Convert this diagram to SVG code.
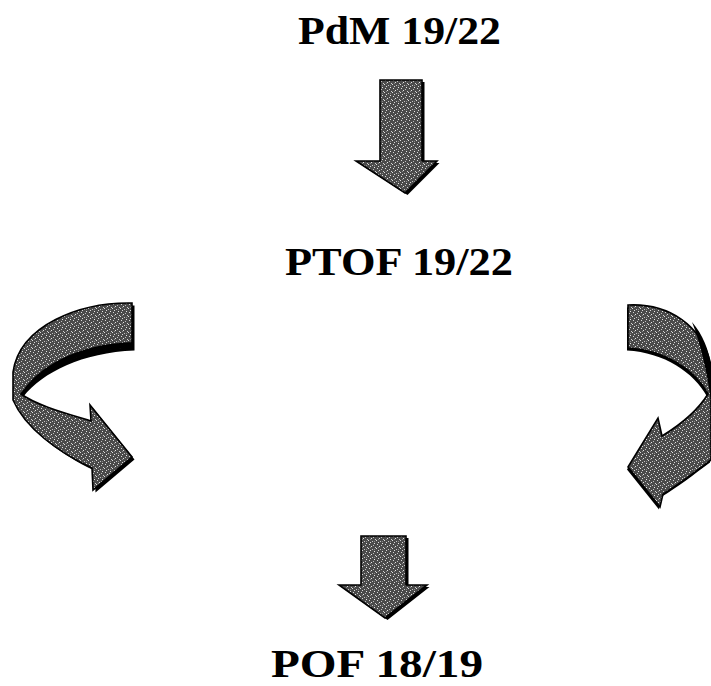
<svg xmlns="http://www.w3.org/2000/svg" width="711" height="686" viewBox="0 0 711 686">
  <style>
    .label { font-family: "Liberation Serif", "Times New Roman", serif; font-weight: bold; font-size: 40px; fill: #000; }
    .body { fill: url(#grain); stroke: #000; stroke-width: 1.6; stroke-linejoin: miter; }
    .shade { fill: #000; }
  </style>
  <defs>
    <!-- speckled grey fill used by all arrows -->
    <pattern id="grain" width="8" height="8" patternUnits="userSpaceOnUse">
      <rect width="8" height="8" fill="#4a4a4a"/>
      <rect x="1" y="0" width="1" height="1" fill="#d8d8d8"/>
      <rect x="5" y="1" width="1" height="1" fill="#bdbdbd"/>
      <rect x="3" y="2" width="1" height="1" fill="#e6e6e6"/>
      <rect x="7" y="3" width="1" height="1" fill="#cfcfcf"/>
      <rect x="0" y="4" width="1" height="1" fill="#e0e0e0"/>
      <rect x="4" y="5" width="1" height="1" fill="#c4c4c4"/>
      <rect x="2" y="6" width="1" height="1" fill="#dadada"/>
      <rect x="6" y="7" width="1" height="1" fill="#e8e8e8"/>
      <rect x="6" y="5" width="1" height="1" fill="#8a8a8a"/>
      <rect x="2" y="3" width="1" height="1" fill="#8a8a8a"/>
    </pattern>
    <path id="down-top" d="M380,80 L422,80 L422,161 L437,161 L405,193 L356,161 L380,161 Z"/>
    <path id="down-bottom" d="M361,536 L406,536 L406,585 L427,585 L385,618 L339,585 L361,585 Z"/>
    <path id="loop-left" d="M132,303 C80,302 20,325 13,372 L13,400 C25,428 58,452 92,468 L93,490 L132,457 L90,405 L91,421 C65,413 36,405 21,394 C40,370 80,350 132,348 Z"/>
    <path id="loop-right" d="M628,305 C668,303 703,325 711,366 L711,460 C695,472 678,485 663,494 L660,507 L628,467 L658,418 L662,436 C680,425 698,410 708,394 C695,370 665,350 628,348 Z"/>
  </defs>

  <!-- nodes -->
  <g id="pdm">
    <text class="label" x="298" y="44" textLength="203" lengthAdjust="spacingAndGlyphs">PdM 19/22</text>
  </g>
  <g id="ptof">
    <text class="label" x="285" y="275" textLength="228" lengthAdjust="spacingAndGlyphs">PTOF 19/22</text>
  </g>
  <g id="pof">
    <text class="label" x="271" y="677" textLength="212" lengthAdjust="spacingAndGlyphs">POF 18/19</text>
  </g>

  <!-- connectors: block arrows with a dark drop edge -->
  <g id="connectors">
    <g id="arrow-pdm-ptof">
      <use href="#down-top" class="shade" transform="translate(2.5,2)"/>
      <use href="#down-top" class="body"/>
    </g>
    <g id="arrow-ptof-pof">
      <use href="#down-bottom" class="shade" transform="translate(2.5,2)"/>
      <use href="#down-bottom" class="body"/>
    </g>
    <g id="loop-arrow-left">
      <use href="#loop-left" class="shade" transform="translate(2.5,2.5)"/>
      <use href="#loop-left" class="body"/>
      <!-- dark underside of the ribbon where it turns -->
      <path class="shade" d="M132,348 C80,350 40,370 21,394 C36,368 76,344 132,342 Z"/>
    </g>
    <g id="loop-arrow-right">
      <use href="#loop-right" class="shade" transform="translate(-1,2.5)"/>
      <use href="#loop-right" class="body"/>
      <!-- dark outer rim of the turn -->
      <path class="shade" d="M692,322 C703,335 709,350 711,366 L711,400 C707,372 701,345 692,322 Z"/>
    </g>
  </g>
</svg>
